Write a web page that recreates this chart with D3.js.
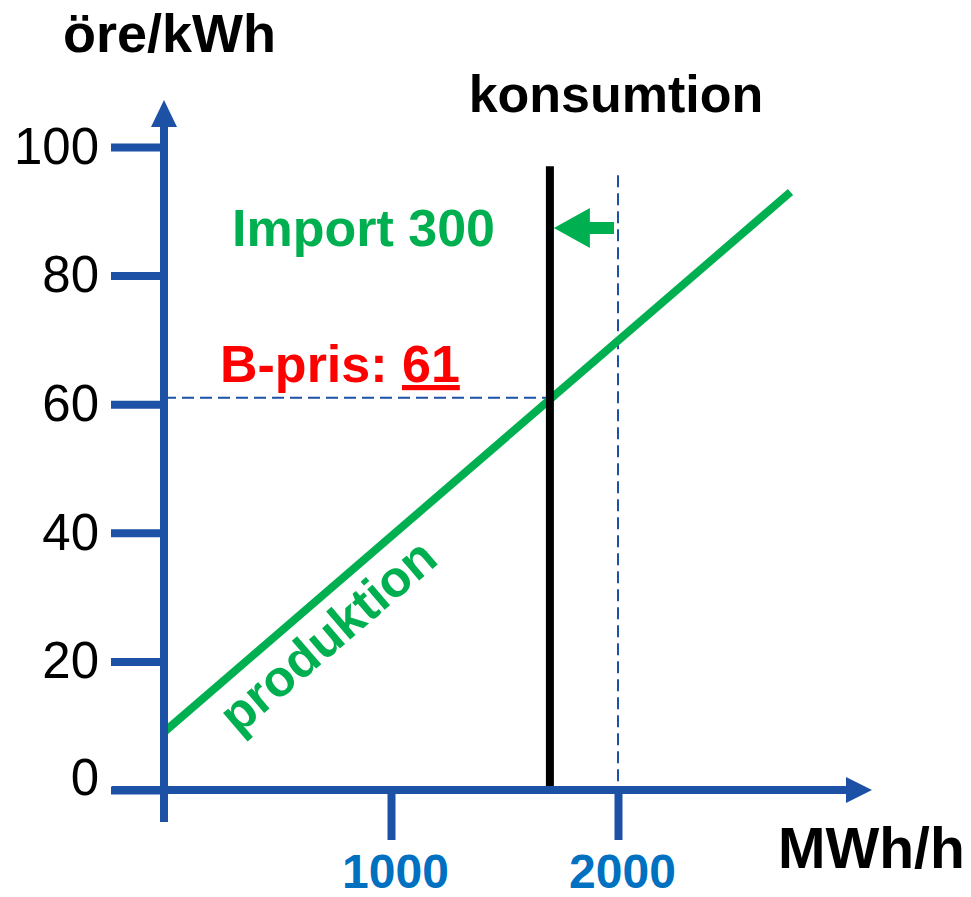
<!DOCTYPE html>
<html>
<head>
<meta charset="utf-8">
<script src="https://cdn.jsdelivr.net/npm/d3@7"></script>
<style>
  body { margin: 0; background: #fff; }
  text { font-family: "Liberation Sans", Arial, sans-serif; }
</style>
</head>
<body>
<svg id="chart" width="971" height="897"></svg>
<script>
// values
var yTicks = [0, 20, 40, 60, 80, 100];
var xTicks = [1000, 2000];
var supplyQ = [0, 2760];        // MWh/h
var supplyP = [9, 93];          // öre/kWh
var demandQ = 1700;             // konsumtion (after import)
var demandTop = 97;
var importQ = 300;
var priceB = 61;
var oldDemandTop = 95.6;
var arrowP = 87.4;

var blue = "#1c51a6";
var green = "#00b050";

var svg = d3.select("#chart");

var x = d3.scaleLinear().domain([0, 2000]).range([164, 618]);
var y = d3.scaleLinear().domain([0, 100]).range([790, 147]);

// dashed guides
svg.append("line")
    .attr("x1", x(0)).attr("x2", x(demandQ))
    .attr("y1", y(priceB)).attr("y2", y(priceB))
    .attr("stroke", blue).attr("stroke-width", 2)
    .attr("stroke-dasharray", "12,6");

svg.append("line")
    .attr("x1", x(demandQ + importQ)).attr("x2", x(demandQ + importQ))
    .attr("y1", y(oldDemandTop)).attr("y2", y(0))
    .attr("stroke", blue).attr("stroke-width", 2)
    .attr("stroke-dasharray", "12,6");

// produktion
var supply = supplyQ.map(function(q, i) { return [q, supplyP[i]]; });
svg.append("path")
    .attr("d", d3.line().x(function(d) { return x(d[0]); }).y(function(d) { return y(d[1]); })(supply))
    .attr("fill", "none")
    .attr("stroke", green)
    .attr("stroke-width", 8);

// konsumtion
svg.append("line")
    .attr("x1", x(demandQ)).attr("x2", x(demandQ))
    .attr("y1", y(demandTop)).attr("y2", y(0))
    .attr("stroke", "#000").attr("stroke-width", 8);

// import arrow
var tipX = x(demandQ) + 4, ay = y(arrowP);
svg.append("line")
    .attr("x1", x(demandQ + importQ) - 4).attr("x2", tipX + 30)
    .attr("y1", ay).attr("y2", ay)
    .attr("stroke", green).attr("stroke-width", 12);
svg.append("path")
    .attr("d", "M" + tipX + "," + ay + "L" + (tipX + 36) + "," + (ay - 20) + "L" + (tipX + 36) + "," + (ay + 20) + "Z")
    .attr("fill", green);

// axes
var yAxis = svg.append("g")
    .attr("transform", "translate(" + x(0) + ",0)")
    .call(d3.axisLeft(y).tickValues(yTicks).tickSize(53).tickPadding(12).tickSizeOuter(0));
yAxis.select(".domain").remove();
yAxis.selectAll(".tick line").attr("stroke", blue).attr("stroke-width", 8);
yAxis.selectAll(".tick text")
    .attr("fill", "#000")
    .style("font-size", "51px")
    .style("font-family", "'Liberation Sans', Arial, sans-serif");
// the zero label sits a bit above its tick
yAxis.selectAll(".tick text").filter(function(d) { return d === 0; }).attr("y", -12);

var xAxis = svg.append("g")
    .attr("transform", "translate(0," + y(0) + ")")
    .call(d3.axisBottom(x).tickValues(xTicks).tickFormat(d3.format("d")).tickSize(50).tickPadding(14).tickSizeOuter(0));
xAxis.select(".domain").remove();
xAxis.selectAll(".tick line").attr("stroke", blue).attr("stroke-width", 8);
xAxis.selectAll(".tick text")
    .attr("fill", "#0070c0")
    .attr("x", 4)
    .style("font-size", "48px")
    .style("font-weight", "bold")
    .style("font-family", "'Liberation Sans', Arial, sans-serif");

// axis lines with arrow heads
svg.append("line")
    .attr("x1", x(0)).attr("x2", x(0))
    .attr("y1", 822).attr("y2", 125)
    .attr("stroke", blue).attr("stroke-width", 8);
svg.append("path")
    .attr("d", "M" + x(0) + ",100L" + (x(0) - 13) + ",127L" + (x(0) + 13) + ",127Z")
    .attr("fill", blue);

svg.append("line")
    .attr("x1", 112).attr("x2", 848)
    .attr("y1", y(0)).attr("y2", y(0))
    .attr("stroke", blue).attr("stroke-width", 8);
svg.append("path")
    .attr("d", "M872," + y(0) + "L846," + (y(0) - 13) + "L846," + (y(0) + 13) + "Z")
    .attr("fill", blue);

// labels
svg.append("text")
    .attr("x", 63).attr("y", 52)
    .style("font-size", "54px").style("font-weight", "bold")
    .text("öre/kWh");

svg.append("text")
    .attr("x", 778).attr("y", 868)
    .style("font-size", "57px").style("font-weight", "bold")
    .text("MWh/h");

svg.append("text")
    .attr("x", 616).attr("y", 112)
    .attr("text-anchor", "middle")
    .style("font-size", "52px").style("font-weight", "bold")
    .text("konsumtion");

svg.append("text")
    .attr("x", 232).attr("y", 246)
    .attr("fill", green)
    .style("font-size", "52px").style("font-weight", "bold")
    .text("Import " + importQ);

var bt = svg.append("text")
    .attr("x", 220).attr("y", 382)
    .attr("fill", "#ff0000")
    .style("font-size", "52px").style("font-weight", "bold");
bt.append("tspan").text("B-pris: ");
bt.append("tspan").style("text-decoration", "underline").text(priceB);

svg.append("text")
    .attr("transform", "translate(339,649) rotate(-40.6)")
    .attr("text-anchor", "middle")
    .attr("fill", green)
    .style("font-size", "51px").style("font-weight", "bold")
    .text("produktion");
</script>
</body>
</html>
